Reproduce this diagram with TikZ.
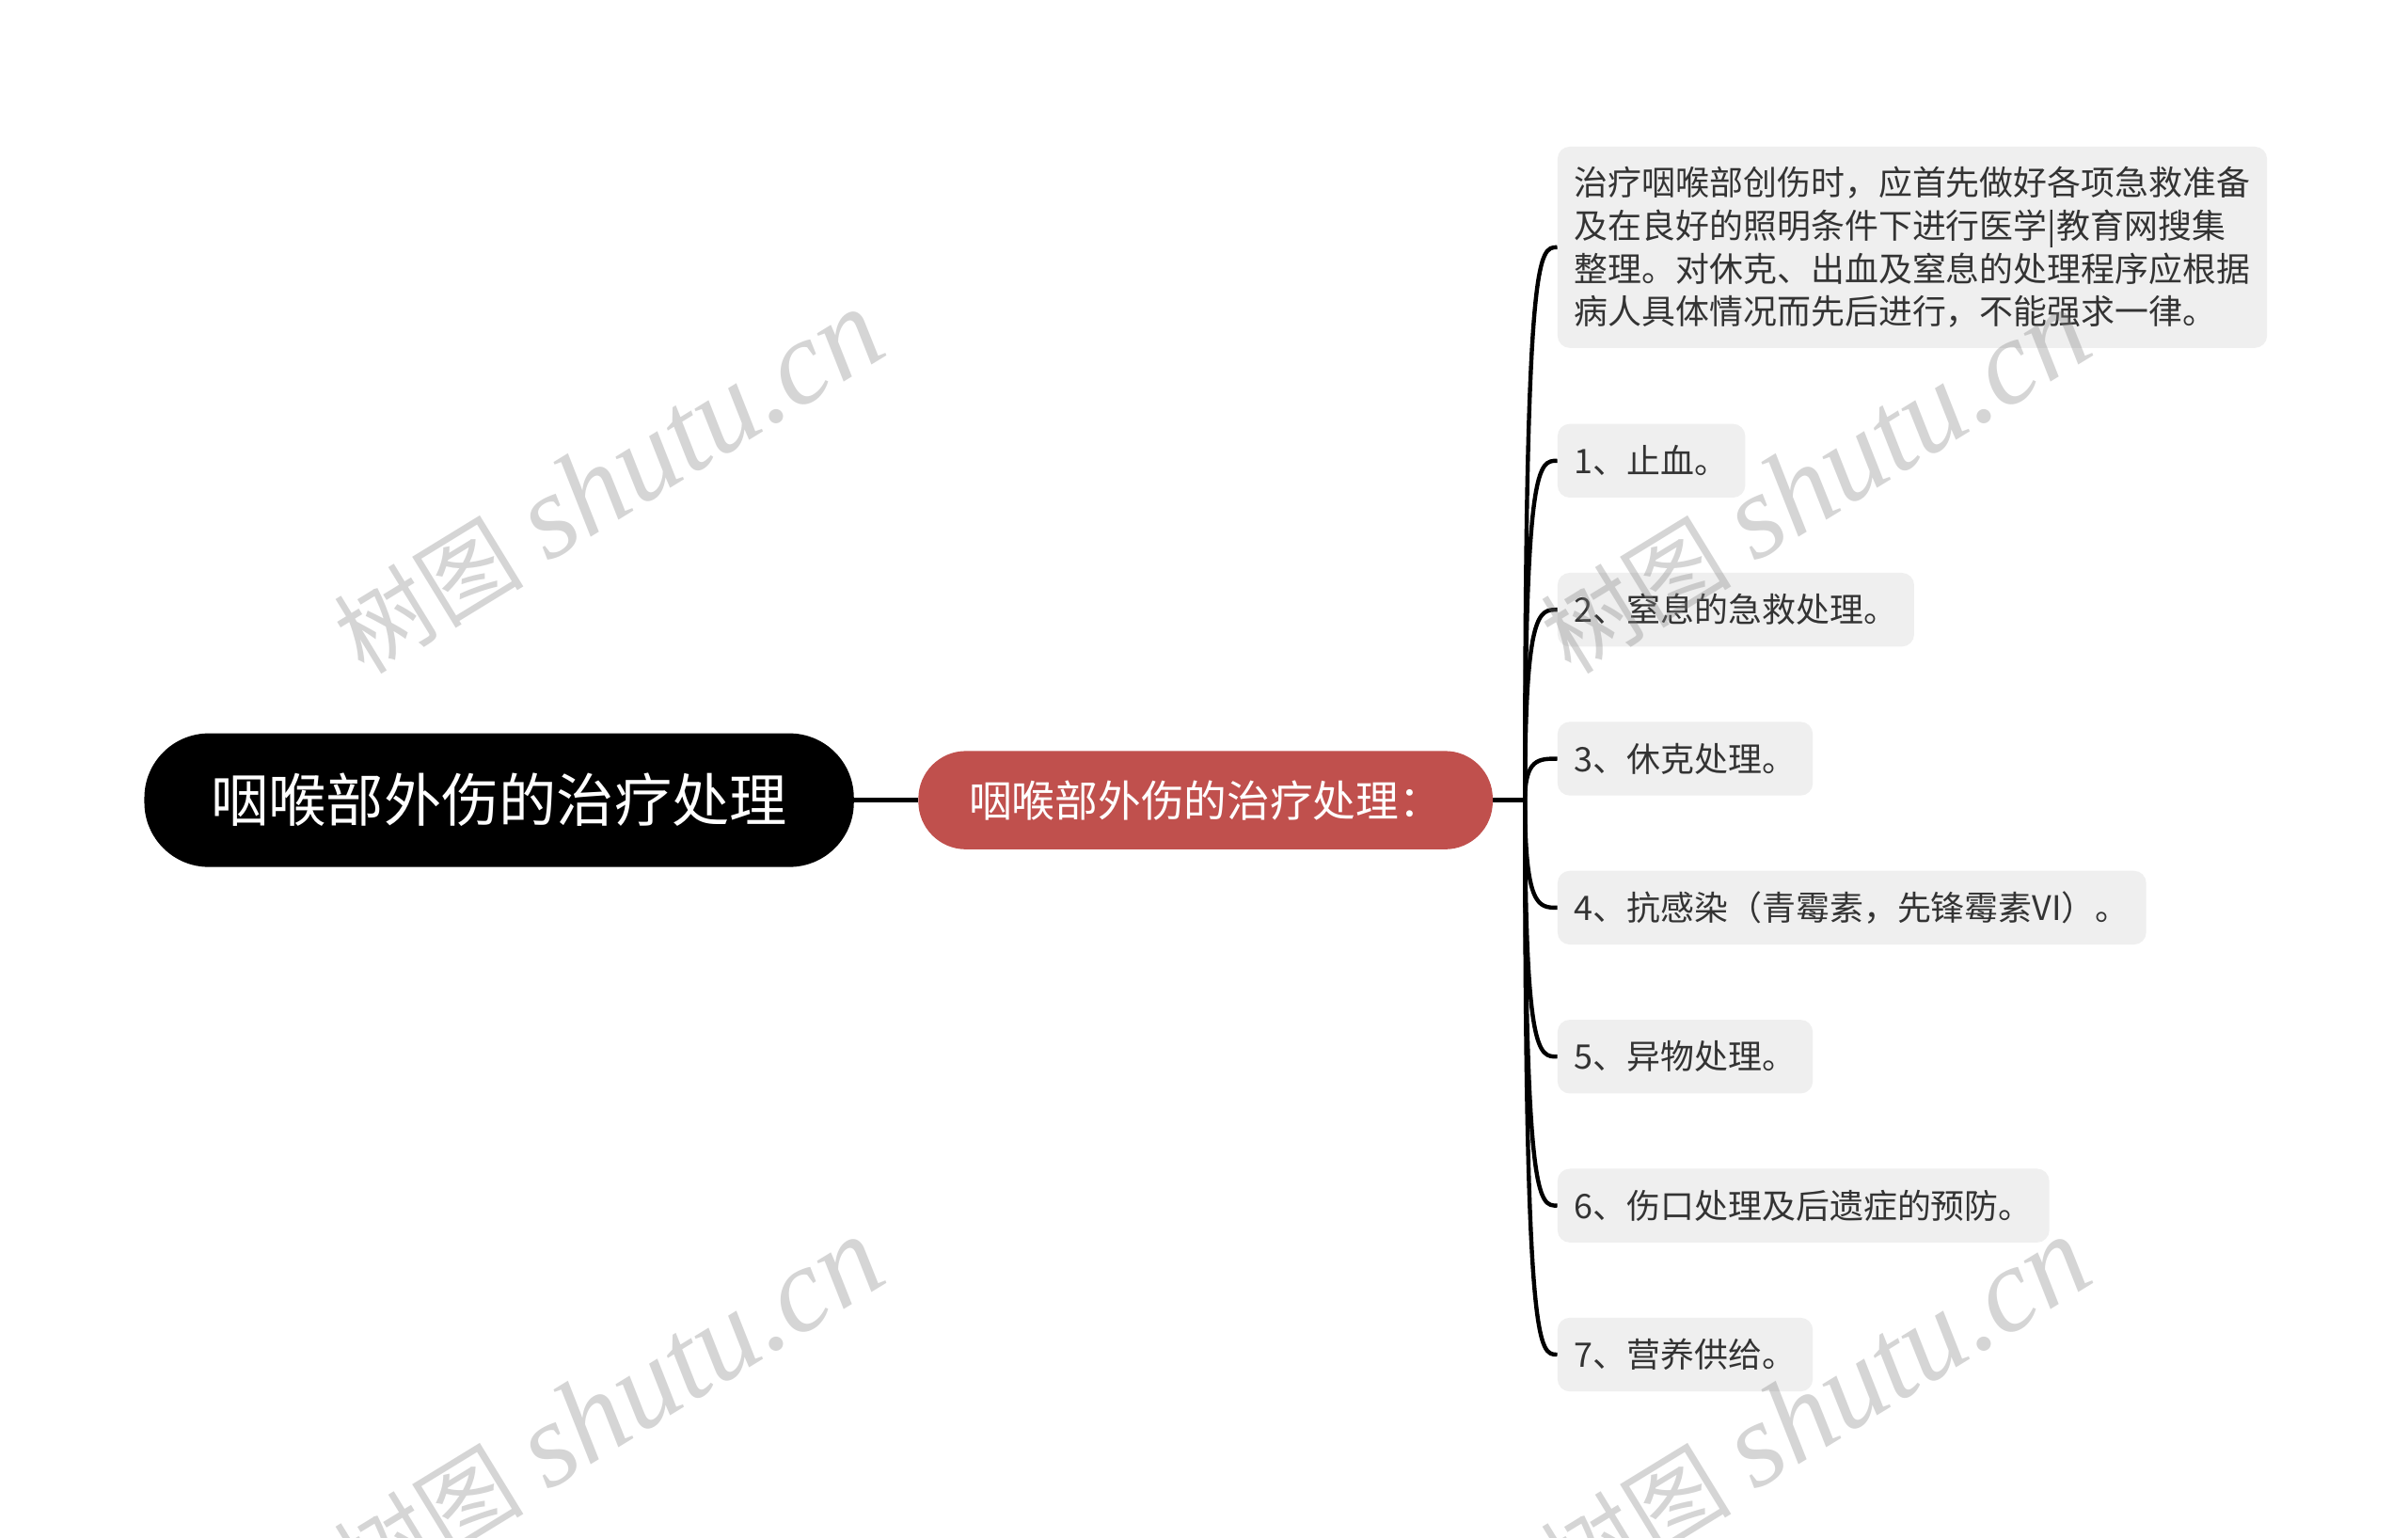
\documentclass[tikz,border=0pt]{standalone}
\usepackage{fontspec}
\setmainfont{Noto Sans CJK SC}
\newfontfamily\wmserif{Liberation Serif}
\usetikzlibrary{calc}
\definecolor{rootred}{HTML}{C0504D}
\definecolor{boxgray}{HTML}{EFEFEF}
\definecolor{txtgray}{HTML}{333333}
\definecolor{wmgray}{HTML}{808080}
\newcommand{\wmtext}{{\fontsize{62}{62}\selectfont 树图}\hspace{16pt}{\wmserif\itshape\fontsize{78}{78}\selectfont shutu.cn}}
\begin{document}
\begin{tikzpicture}[x=1pt,y=-1pt,
 rootbox/.style={fill=black, text=white, rounded corners=42pt, minimum width=462pt, minimum height=87pt, inner sep=0pt, font=\fontsize{37.5}{40}\selectfont},
 subbox/.style={fill=rootred, text=white, rounded corners=31pt, minimum width=374pt, minimum height=64pt, inner sep=0pt, font=\fontsize{28}{30}\selectfont},
 leafbox/.style={fill=boxgray, text=txtgray, rounded corners=8pt, minimum height=48pt, inner xsep=11pt, inner ysep=13pt, anchor=west, align=left, font=\fontsize{22}{28}\selectfont},
 link/.style={line width=2.7pt, draw=black},
 wm/.style={text=wmgray, rotate=31.5, text opacity=0.33}
]
\useasboundingbox[fill=white] (0,0) rectangle (1568,1001.4);

\node[rootbox] (root) at (325,521) {咽喉部外伤的治疗处理};
\node[subbox] (sub) at (785,521) {咽喉部外伤的治疗处理：};
\coordinate (j) at (993,521);

\node[leafbox] (b0) at (1014,161) {治疗咽喉部创伤时，应首先做好各项急救准备\\及在良好的照明条件下进行医学|教育网搜集\\整理。对休克、出血及窒息的处理程序应根据\\病人具体情况而先后进行，不能强求一律。};
\node[leafbox] (b1) at (1014,300) {1、止血。};
\node[leafbox] (b2) at (1014,397) {2、窒息的急救处理。};
\node[leafbox] (b3) at (1014,494) {3、休克处理。};
\node[leafbox] (b4) at (1014,591) {4、抗感染（青霉素，先锋霉素VI）。};
\node[leafbox] (b5) at (1014,688) {5、异物处理。};
\node[leafbox] (b6) at (1014,785) {6、伤口处理及后遗症的预防。};
\node[leafbox] (b7) at (1014,882) {7、营养供给。};

\draw[link] (root.east) -- (sub.west);
\draw[link] (sub.east) -- (j);
\foreach \n in {b0,b1,b2,b3,b4,b5,b6,b7}
  \draw[link] (j) .. controls (j |- \n.west) and ($(\n.west)+(-12,0)$) .. (\n.west);

\node[wm] (w1) at (396,314) {\wmtext};
\node[wm] (w2) at (396,918) {\wmtext};
\node[wm] (w3) at (1182,314) {\wmtext};
\node[wm] (w4) at (1182,918) {\wmtext};
\end{tikzpicture}
\end{document}
